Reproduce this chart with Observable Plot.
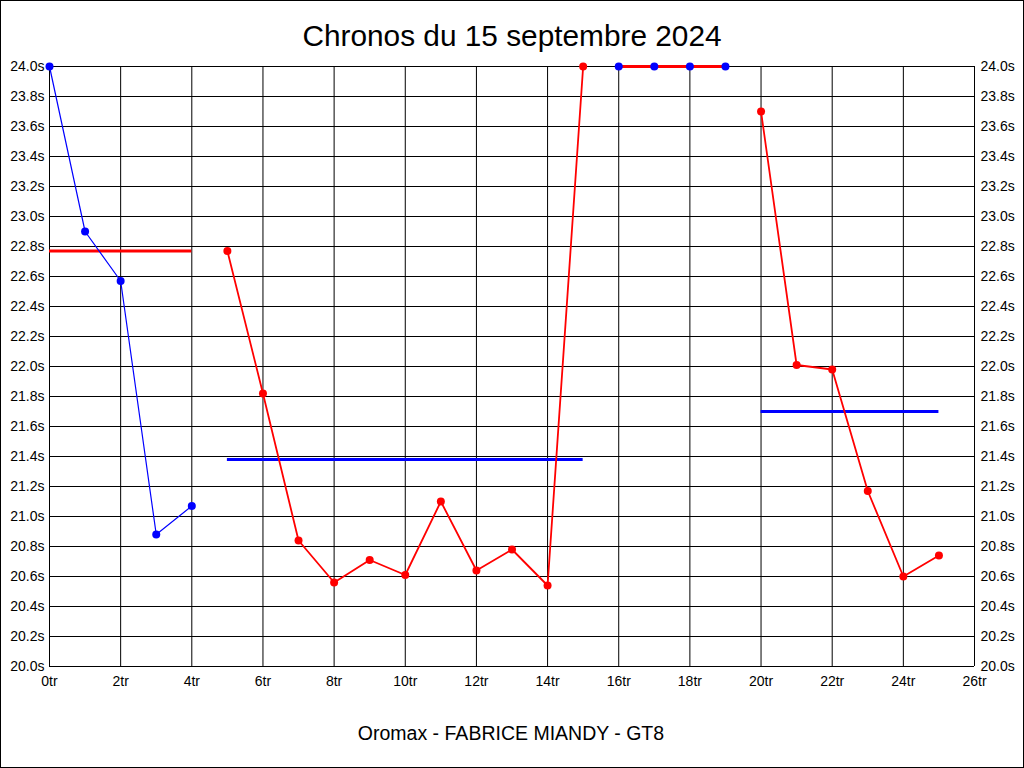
<!DOCTYPE html>
<html>
<head>
<meta charset="utf-8">
<script src="https://cdn.jsdelivr.net/npm/d3@7"></script>
<script src="https://cdn.jsdelivr.net/npm/@observablehq/plot@0.6"></script>
<style>
  html, body { margin: 0; padding: 0; background: #fff; }
  #wrap { position: relative; width: 1024px; height: 768px; overflow: hidden; }
  #border { position: absolute; left: 0; top: 0; width: 1024px; height: 768px; box-sizing: border-box; border: 1px solid #000; pointer-events: none; }
</style>
</head>
<body>
<div id="wrap"><div id="border"></div></div>
<script>
const titleText = "Chronos du 15 septembre 2024";
const footerText = "Oromax - FABRICE MIANDY - GT8";

const laps  = [0, 1, 2, 3, 4, 5, 6, 7, 8, 9, 10, 11, 12, 13, 14, 15, 16, 17, 18, 19, 20, 21, 22, 23, 24, 25];
const times = [24.00, 22.90, 22.57, 20.88, 21.07, 22.77, 21.82, 20.84, 20.56, 20.71, 20.61, 21.10, 20.64, 20.78, 20.54, 24.00, 24.00, 24.00, 24.00, 24.00, 23.70, 22.01, 21.98, 21.17, 20.60, 20.74];
const stints = [1, 1, 1, 1, 1, 2, 2, 2, 2, 2, 2, 2, 2, 2, 2, 2, 3, 3, 3, 3, 4, 4, 4, 4, 4, 4];
const dotColors = ["#0000ff","#0000ff","#0000ff","#0000ff","#0000ff",
  "#ff0000","#ff0000","#ff0000","#ff0000","#ff0000","#ff0000","#ff0000","#ff0000","#ff0000","#ff0000","#ff0000",
  "#0000ff","#0000ff","#0000ff","#0000ff",
  "#ff0000","#ff0000","#ff0000","#ff0000","#ff0000","#ff0000"];

const stintIds    = [1, 2, 3, 4];
const stintColors = ["#0000ff", "#ff0000", "#ff0000", "#ff0000"];
const stintWidths = [1.2, 1.8, 3, 1.8];

const meanFrom   = [0, 5, 20];
const meanTo     = [4, 15, 25];
const meanValue  = [22.77, 21.38, 21.70];
const meanColors = ["#ff0000", "#0000ff", "#0000ff"];

const xTicks = [0, 2, 4, 6, 8, 10, 12, 14, 16, 18, 20, 22, 24, 26];
const yTicks = [20.0, 20.2, 20.4, 20.6, 20.8, 21.0, 21.2, 21.4, 21.6, 21.8, 22.0, 22.2, 22.4, 22.6, 22.8, 23.0, 23.2, 23.4, 23.6, 23.8, 24.0];

const data = laps.map((lap, i) => ({lap, time: times[i], stint: stints[i], color: dotColors[i]}));
const means = meanFrom.map((f, i) => ({from: f, to: meanTo[i], value: meanValue[i], color: meanColors[i]}));

const lineMarks = stintIds.map((id, i) =>
  Plot.line(data.filter(d => d.stint === id), {x: "lap", y: "time", stroke: stintColors[i], strokeWidth: stintWidths[i]})
);

const font = "'Liberation Sans', Arial, sans-serif";

const chart = Plot.plot({
  width: 1024,
  height: 768,
  marginLeft: 49,
  marginRight: 50,
  marginTop: 66,
  marginBottom: 102,
  style: {fontFamily: font, fontSize: "14px", background: "transparent", color: "#000", overflow: "visible"},
  x: {domain: [0, 26]},
  y: {domain: [20, 24]},
  marks: [
    Plot.gridX(xTicks, {stroke: "#000", strokeOpacity: 1, strokeWidth: 1}),
    Plot.gridY(yTicks, {stroke: "#000", strokeOpacity: 1, strokeWidth: 1}),
    Plot.axisX(xTicks, {tickSize: 0, tickPadding: 10, tickFormat: d => d + "tr", label: null, fill: "#000", fontSize: 14}),
    Plot.axisY(yTicks, {anchor: "left", tickSize: 0, tickPadding: 5, tickFormat: d => d.toFixed(1) + "s", label: null, fill: "#000", fontSize: 14}),
    Plot.axisY(yTicks, {anchor: "right", tickSize: 0, tickPadding: 6, tickFormat: d => d.toFixed(1) + "s", label: null, fill: "#000", fontSize: 14}),
    Plot.ruleY(means, {y: "value", x1: "from", x2: "to", stroke: "color", strokeWidth: 3}),
    ...lineMarks,
    Plot.dot(data, {x: "lap", y: "time", fill: "color", r: 4, stroke: null})
  ]
});

const svg = d3.select(chart);
svg.append("text")
  .attr("x", 512).attr("y", 46)
  .attr("text-anchor", "middle")
  .style("font-family", font).style("font-size", "29.8px").attr("fill", "#000")
  .text(titleText);
svg.append("text")
  .attr("x", 511).attr("y", 740)
  .attr("text-anchor", "middle")
  .style("font-family", font).style("font-size", "19.5px").attr("fill", "#000")
  .text(footerText);

const wrap = document.getElementById("wrap");
wrap.insertBefore(chart, wrap.firstChild);
</script>
</body>
</html>
